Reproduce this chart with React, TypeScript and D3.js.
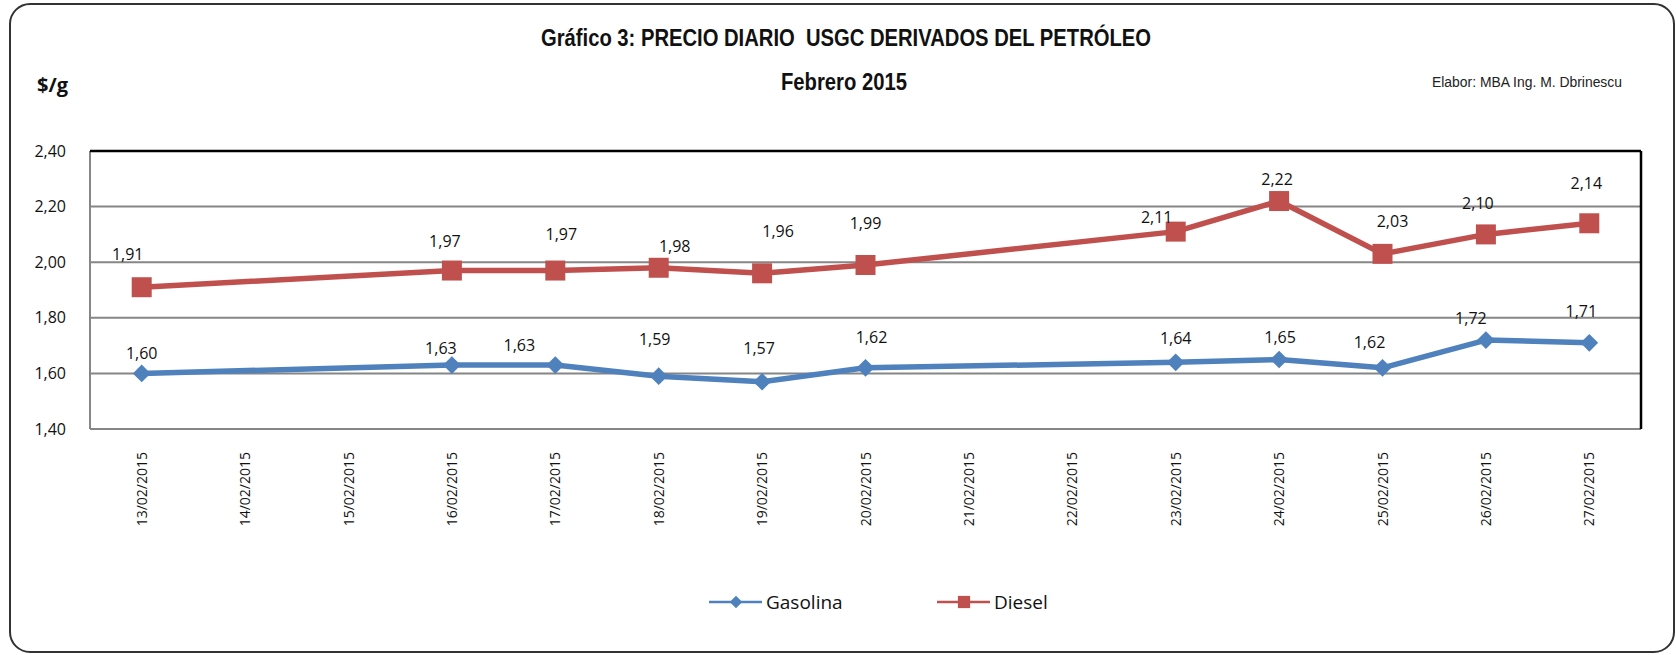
import React, { useEffect, useRef } from 'react';
import * as d3 from 'd3';

// fechas del eje (categorias)
const fechas = [
  '13/02/2015', '14/02/2015', '15/02/2015', '16/02/2015', '17/02/2015',
  '18/02/2015', '19/02/2015', '20/02/2015', '21/02/2015', '22/02/2015',
  '23/02/2015', '24/02/2015', '25/02/2015', '26/02/2015', '27/02/2015',
];

// precios $/g (null = sin cotizacion, fin de semana / feriado)
const gasolina = [1.60, null, null, 1.63, 1.63, 1.59, 1.57, 1.62, null, null, 1.64, 1.65, 1.62, 1.72, 1.71];
const diesel = [1.91, null, null, 1.97, 1.97, 1.98, 1.96, 1.99, null, null, 2.11, 2.22, 2.03, 2.10, 2.14];

const yTicks = [1.4, 1.6, 1.8, 2.0, 2.2, 2.4];

// desplazamiento manual de etiquetas (como en el original)
const gasLabelDy = [-20, 0, 0, -17, -20, -37, -33, -30, 0, 0, -24, -22, -25, -22, -31];
const gasLabelDx = [0, 0, 0, -11, -36, -4, -3, 6, 0, 0, 0, 1, -13, -15, -8];
const dieLabelDy = [-33, 0, 0, -29, -36, -21, -42, -42, 0, 0, -14, -22, -32, -31, -40];
const dieLabelDx = [-14, 0, 0, -7, 6, 16, 16, 0, 0, 0, -19, -2, 10, -8, -3];

const BLUE = '#4F81BD';
const RED = '#C0504D';
const fmt = (v: number) => v.toFixed(2).replace('.', ',');

export default function App() {
  const ref = useRef<SVGSVGElement>(null);

  useEffect(() => {
    const svg = d3.select(ref.current);
    svg.selectAll('*').remove();

    const W = 1676, H = 655;
    const left = 90, right = 1641, top = 151, bottom = 429;
    const font = "'Open Sans', sans-serif";
    const narrow = "'Liberation Sans', Arial, sans-serif";

    svg.append('rect').attr('width', W).attr('height', H).attr('fill', 'white');

    // marco redondeado
    svg.append('rect')
      .attr('x', 10).attr('y', 4).attr('width', 1664).attr('height', 648)
      .attr('rx', 20).attr('fill', 'white')
      .attr('stroke', '#333').attr('stroke-width', 2);

    const x = d3.scaleBand().domain(fechas).range([left, right]).padding(0);
    const y = d3.scaleLinear().domain([1.4, 2.4]).range([bottom, top]);
    const cx = (i: number) => (x(fechas[i]) as number) + x.bandwidth() / 2;

    // titulos (fuente condensada)
    svg.append('text').attr('x', 541).attr('y', 46)
      .attr('font-family', narrow).attr('font-weight', 'bold').attr('font-size', 23)
      .attr('textLength', 610).attr('lengthAdjust', 'spacingAndGlyphs')
      .attr('fill', '#111').attr('xml:space', 'preserve')
      .text('Gráfico 3: PRECIO DIARIO  USGC DERIVADOS DEL PETRÓLEO');
    svg.append('text').attr('x', 781).attr('y', 90)
      .attr('font-family', narrow).attr('font-weight', 'bold').attr('font-size', 23)
      .attr('textLength', 126).attr('lengthAdjust', 'spacingAndGlyphs')
      .attr('fill', '#111').text('Febrero 2015');
    svg.append('text').attr('x', 37).attr('y', 92)
      .attr('font-family', font).attr('font-weight', 'bold').attr('font-size', 20)
      .attr('fill', '#111').text('$/g');
    svg.append('text').attr('x', 1432).attr('y', 87)
      .attr('font-family', narrow).attr('font-size', 14)
      .attr('textLength', 190).attr('lengthAdjust', 'spacingAndGlyphs')
      .attr('fill', '#222').text('Elabor: MBA Ing. M. Dbrinescu');

    // grilla
    svg.append('g').selectAll('line')
      .data(yTicks.slice(1, -1))
      .enter().append('line')
      .attr('x1', left).attr('x2', right)
      .attr('y1', d => y(d)).attr('y2', d => y(d))
      .attr('stroke', '#868686').attr('stroke-width', 2);

    // ejes
    svg.append('line').attr('x1', left).attr('x2', right).attr('y1', bottom).attr('y2', bottom)
      .attr('stroke', '#868686').attr('stroke-width', 2);
    svg.append('line').attr('x1', left).attr('x2', left).attr('y1', top).attr('y2', bottom)
      .attr('stroke', '#868686').attr('stroke-width', 2);
    svg.append('line').attr('x1', left).attr('x2', right).attr('y1', top).attr('y2', top)
      .attr('stroke', '#000').attr('stroke-width', 2.5);
    svg.append('line').attr('x1', right).attr('x2', right).attr('y1', top).attr('y2', bottom)
      .attr('stroke', '#000').attr('stroke-width', 2.5);

    svg.append('g').selectAll('text')
      .data(yTicks)
      .enter().append('text')
      .attr('x', 66).attr('y', d => y(d)).attr('dy', '0.35em')
      .attr('text-anchor', 'end')
      .attr('font-family', font).attr('font-size', 16).attr('fill', '#111')
      .text(d => fmt(d));

    svg.append('g').selectAll('text')
      .data(fechas)
      .enter().append('text')
      .attr('transform', (d, i) => `translate(${cx(i) + 5},452) rotate(-90)`)
      .attr('text-anchor', 'end')
      .attr('font-family', font).attr('font-size', 14).attr('fill', '#111')
      .text(d => d);

    const series = [
      { vals: gasolina, color: BLUE, shape: 'diamond', dy: gasLabelDy, dx: gasLabelDx },
      { vals: diesel, color: RED, shape: 'square', dy: dieLabelDy, dx: dieLabelDx },
    ];

    series.forEach(s => {
      const pts = s.vals.map((v, i) => ({ v, i })).filter(p => p.v !== null) as { v: number; i: number }[];
      const line = d3.line<{ v: number; i: number }>().x(p => cx(p.i)).y(p => y(p.v));
      svg.append('path').datum(pts).attr('d', line)
        .attr('fill', 'none').attr('stroke', s.color).attr('stroke-width', 5.5)
        .attr('stroke-linejoin', 'round');

      const sym = s.shape === 'diamond'
        ? d3.symbol().type(d3.symbolDiamond2).size(200)
        : d3.symbol().type(d3.symbolSquare).size(400);
      svg.append('g').selectAll('path')
        .data(pts)
        .enter().append('path')
        .attr('d', sym as any)
        .attr('transform', p => `translate(${cx(p.i)},${y(p.v)})`)
        .attr('fill', s.color);

      svg.append('g').selectAll('text')
        .data(pts)
        .enter().append('text')
        .attr('x', p => cx(p.i) + s.dx[p.i])
        .attr('y', p => y(p.v) + s.dy[p.i]).attr('dy', '0.35em')
        .attr('text-anchor', 'middle')
        .attr('font-family', font).attr('font-size', 16).attr('fill', '#111')
        .text(p => fmt(p.v));
    });

    // leyenda
    const legend = [
      { name: 'Gasolina', color: BLUE, shape: 'diamond', x0: 709 },
      { name: 'Diesel', color: RED, shape: 'square', x0: 937 },
    ];
    const lg = svg.append('g');
    legend.forEach(l => {
      lg.append('line').attr('x1', l.x0).attr('x2', l.x0 + 53).attr('y1', 602).attr('y2', 602)
        .attr('stroke', l.color).attr('stroke-width', 2.5);
      const sym = l.shape === 'diamond'
        ? d3.symbol().type(d3.symbolDiamond2).size(100)
        : d3.symbol().type(d3.symbolSquare).size(150);
      lg.append('path').attr('d', sym as any).attr('transform', `translate(${l.x0 + 27},602)`)
        .attr('fill', l.color);
      lg.append('text').attr('x', l.x0 + 57).attr('y', 602).attr('dy', '0.35em')
        .attr('font-family', font).attr('font-size', 19).attr('fill', '#111')
        .text(l.name);
    });
  }, []);

  return (
    <div style={{ position: 'absolute', left: 0, top: 0 }}>
      <svg ref={ref} width={1676} height={655}></svg>
    </div>
  );
}
